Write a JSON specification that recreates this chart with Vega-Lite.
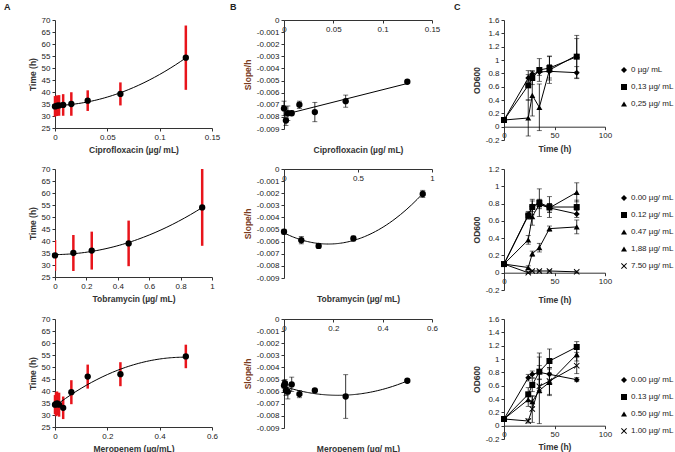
{
  "$schema": "https://vega.github.io/schema/vega-lite/v6.json",
  "padding": {"left": 4, "top": 3, "right": 0, "bottom": 0},
  "background": "white",
  "bounds": "flush",
  "columns": 3,
  "align": "each",
  "spacing": {"row": 29, "column": 72},
  "resolve": {"scale": {"shape": "independent"}, "legend": {"shape": "independent"}},
  "config": {
    "view": {"stroke": null},
    "font": "Liberation Sans",
    "axis": {"labelFont": "Liberation Sans", "labelFontSize": 8, "labelColor": "#222", "titleFont": "Liberation Sans", "titleFontSize": 8.5, "titleFontWeight": "bold", "titleColor": "#333", "domainColor": "#333", "tickColor": "#333", "tickSize": 3, "grid": false, "labelPadding": 2, "titlePadding": 4, "labelFlush": false, "labelOverlap": false},
    "legend": {"labelFont": "Liberation Sans", "labelFontSize": 8, "labelColor": "#222", "rowPadding": 5, "labelOffset": 3, "symbolSize": 36, "symbolFillColor": "black"},
    "title": {"font": "Liberation Sans", "fontSize": 9, "fontWeight": "bold", "color": "#222"}
  },
  "datasets": {
    "time": [
      {"drug": "Ciprofloxacin", "conc": 0, "time": 34.0, "err": 4.3},
      {"drug": "Ciprofloxacin", "conc": 0.00195, "time": 34.3, "err": 4.3},
      {"drug": "Ciprofloxacin", "conc": 0.0039, "time": 34.4, "err": 4.3},
      {"drug": "Ciprofloxacin", "conc": 0.0078, "time": 34.6, "err": 4.5},
      {"drug": "Ciprofloxacin", "conc": 0.0156, "time": 35.0, "err": 4.9},
      {"drug": "Ciprofloxacin", "conc": 0.03125, "time": 36.4, "err": 4.3},
      {"drug": "Ciprofloxacin", "conc": 0.0625, "time": 39.2, "err": 4.8},
      {"drug": "Ciprofloxacin", "conc": 0.125, "time": 54.3, "err": 13.4},
      {"drug": "Tobramycin", "conc": 0, "time": 34.0, "err": 6.4},
      {"drug": "Tobramycin", "conc": 0.117, "time": 35.0, "err": 7.5},
      {"drug": "Tobramycin", "conc": 0.234, "time": 36.0, "err": 7.9},
      {"drug": "Tobramycin", "conc": 0.469, "time": 39.0, "err": 9.5},
      {"drug": "Tobramycin", "conc": 0.9375, "time": 54.0, "err": 16.0},
      {"drug": "Meropenem", "conc": 0, "time": 34.3, "err": 4.0},
      {"drug": "Meropenem", "conc": 0.0039, "time": 34.5, "err": 5.0},
      {"drug": "Meropenem", "conc": 0.0078, "time": 34.8, "err": 5.0},
      {"drug": "Meropenem", "conc": 0.0156, "time": 34.3, "err": 5.0},
      {"drug": "Meropenem", "conc": 0.03125, "time": 33.0, "err": 4.7},
      {"drug": "Meropenem", "conc": 0.0625, "time": 39.5, "err": 5.0},
      {"drug": "Meropenem", "conc": 0.125, "time": 46.0, "err": 5.0},
      {"drug": "Meropenem", "conc": 0.25, "time": 47.0, "err": 5.0},
      {"drug": "Meropenem", "conc": 0.5, "time": 54.4, "err": 4.9}
    ],
    "slope": [
      {"drug": "Ciprofloxacin", "conc": 0, "slope": -0.0073, "err": 0.0006},
      {"drug": "Ciprofloxacin", "conc": 0.00195, "slope": -0.0083, "err": 0.0004},
      {"drug": "Ciprofloxacin", "conc": 0.0039, "slope": -0.0077, "err": 0.0006},
      {"drug": "Ciprofloxacin", "conc": 0.0078, "slope": -0.0077, "err": 0.0002},
      {"drug": "Ciprofloxacin", "conc": 0.0156, "slope": -0.0070, "err": 0.0003},
      {"drug": "Ciprofloxacin", "conc": 0.03125, "slope": -0.0076, "err": 0.0008},
      {"drug": "Ciprofloxacin", "conc": 0.0625, "slope": -0.0067, "err": 0.0005},
      {"drug": "Ciprofloxacin", "conc": 0.125, "slope": -0.0051, "err": 0.0001},
      {"drug": "Tobramycin", "conc": 0, "slope": -0.00518, "err": 0.0002},
      {"drug": "Tobramycin", "conc": 0.117, "slope": -0.00588, "err": 0.0003},
      {"drug": "Tobramycin", "conc": 0.234, "slope": -0.00635, "err": 0.0002},
      {"drug": "Tobramycin", "conc": 0.469, "slope": -0.00574, "err": 0.0002},
      {"drug": "Tobramycin", "conc": 0.9375, "slope": -0.00206, "err": 0.0003},
      {"drug": "Meropenem", "conc": 0, "slope": -0.0055, "err": 0.0002},
      {"drug": "Meropenem", "conc": 0.0039, "slope": -0.0053, "err": 0.0003},
      {"drug": "Meropenem", "conc": 0.0078, "slope": -0.0059, "err": 0.0004},
      {"drug": "Meropenem", "conc": 0.0156, "slope": -0.0060, "err": 0.0006},
      {"drug": "Meropenem", "conc": 0.03125, "slope": -0.0054, "err": 0.0006},
      {"drug": "Meropenem", "conc": 0.0625, "slope": -0.0062, "err": 0.0003},
      {"drug": "Meropenem", "conc": 0.125, "slope": -0.0059, "err": 0.0001},
      {"drug": "Meropenem", "conc": 0.25, "slope": -0.0064, "err": 0.0018},
      {"drug": "Meropenem", "conc": 0.5, "slope": -0.0051, "err": 0.0001}
    ],
    "od": [
      {"panel": "C1", "series": "0 µg/ mL", "t": 0, "od": 0.1, "err": 0},
      {"panel": "C1", "series": "0 µg/ mL", "t": 24, "od": 0.73, "err": 0.05},
      {"panel": "C1", "series": "0 µg/ mL", "t": 28, "od": 0.79, "err": 0.05},
      {"panel": "C1", "series": "0 µg/ mL", "t": 35, "od": 0.82, "err": 0.05},
      {"panel": "C1", "series": "0 µg/ mL", "t": 45, "od": 0.83, "err": 0.1},
      {"panel": "C1", "series": "0 µg/ mL", "t": 72, "od": 0.81, "err": 0.09},
      {"panel": "C1", "series": "0,13 µg/ mL", "t": 0, "od": 0.1, "err": 0},
      {"panel": "C1", "series": "0,13 µg/ mL", "t": 24, "od": 0.62, "err": 0.22},
      {"panel": "C1", "series": "0,13 µg/ mL", "t": 28, "od": 0.73, "err": 0.1},
      {"panel": "C1", "series": "0,13 µg/ mL", "t": 35, "od": 0.85, "err": 0.17},
      {"panel": "C1", "series": "0,13 µg/ mL", "t": 45, "od": 0.88, "err": 0.18},
      {"panel": "C1", "series": "0,13 µg/ mL", "t": 72, "od": 1.05, "err": 0.32},
      {"panel": "C1", "series": "0,25 µg/ mL", "t": 0, "od": 0.1, "err": 0},
      {"panel": "C1", "series": "0,25 µg/ mL", "t": 24, "od": 0.13, "err": 0.27},
      {"panel": "C1", "series": "0,25 µg/ mL", "t": 28, "od": 0.47, "err": 0.31},
      {"panel": "C1", "series": "0,25 µg/ mL", "t": 35, "od": 0.29, "err": 0.35},
      {"panel": "C1", "series": "0,25 µg/ mL", "t": 45, "od": 0.85, "err": 0.2},
      {"panel": "C1", "series": "0,25 µg/ mL", "t": 72, "od": 1.07, "err": 0.25},
      {"panel": "C2", "series": "0.00 µg/ mL", "t": 0, "od": 0.1, "err": 0},
      {"panel": "C2", "series": "0.00 µg/ mL", "t": 24, "od": 0.67, "err": 0.04},
      {"panel": "C2", "series": "0.00 µg/ mL", "t": 28, "od": 0.77, "err": 0.06},
      {"panel": "C2", "series": "0.00 µg/ mL", "t": 35, "od": 0.8, "err": 0.05},
      {"panel": "C2", "series": "0.00 µg/ mL", "t": 45, "od": 0.75, "err": 0.05},
      {"panel": "C2", "series": "0.00 µg/ mL", "t": 72, "od": 0.68, "err": 0.04},
      {"panel": "C2", "series": "0.12 µg/ mL", "t": 0, "od": 0.1, "err": 0},
      {"panel": "C2", "series": "0.12 µg/ mL", "t": 24, "od": 0.66, "err": 0.04},
      {"panel": "C2", "series": "0.12 µg/ mL", "t": 28, "od": 0.76, "err": 0.09},
      {"panel": "C2", "series": "0.12 µg/ mL", "t": 35, "od": 0.81, "err": 0.16},
      {"panel": "C2", "series": "0.12 µg/ mL", "t": 45, "od": 0.76, "err": 0.12},
      {"panel": "C2", "series": "0.12 µg/ mL", "t": 72, "od": 0.76, "err": 0.08},
      {"panel": "C2", "series": "0.47 µg/ mL", "t": 0, "od": 0.1, "err": 0},
      {"panel": "C2", "series": "0.47 µg/ mL", "t": 24, "od": 0.38, "err": 0.05},
      {"panel": "C2", "series": "0.47 µg/ mL", "t": 28, "od": 0.65, "err": 0.1},
      {"panel": "C2", "series": "0.47 µg/ mL", "t": 35, "od": 0.79, "err": 0.05},
      {"panel": "C2", "series": "0.47 µg/ mL", "t": 45, "od": 0.75, "err": 0.05},
      {"panel": "C2", "series": "0.47 µg/ mL", "t": 72, "od": 0.93, "err": 0.11},
      {"panel": "C2", "series": "1,88 µg/ mL", "t": 0, "od": 0.1, "err": 0},
      {"panel": "C2", "series": "1,88 µg/ mL", "t": 24, "od": 0.06, "err": 0.02},
      {"panel": "C2", "series": "1,88 µg/ mL", "t": 28, "od": 0.22, "err": 0.03},
      {"panel": "C2", "series": "1,88 µg/ mL", "t": 35, "od": 0.29, "err": 0.05},
      {"panel": "C2", "series": "1,88 µg/ mL", "t": 45, "od": 0.51, "err": 0.03},
      {"panel": "C2", "series": "1,88 µg/ mL", "t": 72, "od": 0.53, "err": 0.08},
      {"panel": "C2", "series": "7.50 µg/ mL", "t": 0, "od": 0.1, "err": 0},
      {"panel": "C2", "series": "7.50 µg/ mL", "t": 24, "od": 0.0, "err": 0.01},
      {"panel": "C2", "series": "7.50 µg/ mL", "t": 28, "od": 0.02, "err": 0.01},
      {"panel": "C2", "series": "7.50 µg/ mL", "t": 35, "od": 0.02, "err": 0.01},
      {"panel": "C2", "series": "7.50 µg/ mL", "t": 45, "od": 0.02, "err": 0.01},
      {"panel": "C2", "series": "7.50 µg/ mL", "t": 72, "od": 0.01, "err": 0.01},
      {"panel": "C3", "series": "0.00 µg/ mL", "t": 0, "od": 0.1, "err": 0},
      {"panel": "C3", "series": "0.00 µg/ mL", "t": 24, "od": 0.72, "err": 0.05},
      {"panel": "C3", "series": "0.00 µg/ mL", "t": 28, "od": 0.77, "err": 0.05},
      {"panel": "C3", "series": "0.00 µg/ mL", "t": 35, "od": 0.8, "err": 0.1},
      {"panel": "C3", "series": "0.00 µg/ mL", "t": 45, "od": 0.77, "err": 0.1},
      {"panel": "C3", "series": "0.00 µg/ mL", "t": 72, "od": 0.69, "err": 0.03},
      {"panel": "C3", "series": "0.13 µg/ mL", "t": 0, "od": 0.1, "err": 0},
      {"panel": "C3", "series": "0.13 µg/ mL", "t": 24, "od": 0.47, "err": 0.1},
      {"panel": "C3", "series": "0.13 µg/ mL", "t": 28, "od": 0.61, "err": 0.1},
      {"panel": "C3", "series": "0.13 µg/ mL", "t": 35, "od": 0.81, "err": 0.28},
      {"panel": "C3", "series": "0.13 µg/ mL", "t": 45, "od": 0.97, "err": 0.18},
      {"panel": "C3", "series": "0.13 µg/ mL", "t": 72, "od": 1.18, "err": 0.08},
      {"panel": "C3", "series": "0.50 µg/ mL", "t": 0, "od": 0.1, "err": 0},
      {"panel": "C3", "series": "0.50 µg/ mL", "t": 24, "od": 0.39, "err": 0.1},
      {"panel": "C3", "series": "0.50 µg/ mL", "t": 28, "od": 0.36, "err": 0.08},
      {"panel": "C3", "series": "0.50 µg/ mL", "t": 35, "od": 0.53, "err": 0.5},
      {"panel": "C3", "series": "0.50 µg/ mL", "t": 45, "od": 0.65, "err": 0.2},
      {"panel": "C3", "series": "0.50 µg/ mL", "t": 72, "od": 1.07, "err": 0.1},
      {"panel": "C3", "series": "1.00 µg/ mL", "t": 0, "od": 0.1, "err": 0},
      {"panel": "C3", "series": "1.00 µg/ mL", "t": 24, "od": 0.07, "err": 0.03},
      {"panel": "C3", "series": "1.00 µg/ mL", "t": 28, "od": 0.25, "err": 0.2},
      {"panel": "C3", "series": "1.00 µg/ mL", "t": 35, "od": 0.59, "err": 0.1},
      {"panel": "C3", "series": "1.00 µg/ mL", "t": 45, "od": 0.67, "err": 0.2},
      {"panel": "C3", "series": "1.00 µg/ mL", "t": 72, "od": 0.9, "err": 0.12}
    ]
  },
  "concat": [
    {
      "width": 157, "height": 108,
      "title": {"text": "A", "anchor": "start", "frame": "group", "dx": -51, "offset": 4},
      "data": {"name": "time"},
      "transform": [{"filter": "datum.drug === 'Ciprofloxacin'"}],
      "encoding": {
        "x": {"field": "conc", "type": "quantitative", "scale": {"domain": [0, 0.15], "nice": false}, "axis": {"values": [0, 0.05, 0.1, 0.15], "labelExpr": "'' + datum.value", "title": "Ciprofloxacin (µg/ mL)"}},
        "y": {"field": "time", "type": "quantitative", "scale": {"domain": [25, 70], "nice": false, "zero": false}, "axis": {"values": [25, 30, 35, 40, 45, 50, 55, 60, 65, 70], "title": "Time (h)"}}
      },
      "layer": [
        {"mark": {"type": "errorbar", "color": "#e8141b", "thickness": 2.5}, "encoding": {"yError": {"field": "err"}}},
        {"mark": {"type": "circle", "color": "black", "size": 40, "opacity": 1}},
        {"transform": [{"regression": "time", "on": "conc", "method": "poly", "order": 2}], "mark": {"type": "line", "color": "black", "strokeWidth": 1}}
      ]
    },
    {
      "width": 148, "height": 109,
      "title": {"text": "B", "anchor": "start", "frame": "group", "dx": -54, "offset": 4},
      "data": {"name": "slope"},
      "transform": [{"filter": "datum.drug === 'Ciprofloxacin'"}],
      "encoding": {
        "x": {"field": "conc", "type": "quantitative", "scale": {"domain": [0, 0.15], "nice": false}, "axis": {"values": [0, 0.05, 0.1, 0.15], "labelExpr": "'' + datum.value", "orient": "bottom", "offset": -109, "titleY": 125, "title": "Ciprofloxacin (µg/ mL)"}},
        "y": {"field": "slope", "type": "quantitative", "scale": {"domain": [-0.009, 0], "nice": false}, "axis": {"values": [-0.009, -0.008, -0.007, -0.006, -0.005, -0.004, -0.003, -0.002, -0.001, 0], "labelExpr": "replace(format(datum.value, '~g'), '−', '-')", "title": "Slope/h", "titleColor": "#7a3a1c"}}
      },
      "layer": [
        {"mark": {"type": "errorbar", "color": "black", "thickness": 0.8, "ticks": true, "size": 5}, "encoding": {"yError": {"field": "err"}}},
        {"mark": {"type": "circle", "color": "black", "size": 40, "opacity": 1}},
        {"transform": [{"regression": "slope", "on": "conc", "method": "linear"}], "mark": {"type": "line", "color": "black", "strokeWidth": 1}}
      ]
    },
    {
      "width": 101, "height": 120,
      "title": {"text": "C", "anchor": "start", "frame": "group", "dx": -50, "offset": 4},
      "data": {"name": "od"},
      "transform": [{"filter": "datum.panel === 'C1'"}],
      "encoding": {
        "x": {"field": "t", "type": "quantitative", "scale": {"domain": [0, 100], "nice": false}, "axis": {"values": [0, 50, 100], "orient": "bottom", "offset": -13.3, "titleY": 18, "title": "Time (h)"}},
        "y": {"field": "od", "type": "quantitative", "scale": {"domain": [-0.2, 1.6], "nice": false}, "axis": {"values": [-0.2, 0, 0.2, 0.4, 0.6, 0.8, 1, 1.2, 1.4, 1.6], "labelExpr": "replace(format(datum.value, '~g'), '−', '-')", "title": "OD600"}}
      },
      "layer": [
        {"mark": {"type": "line", "color": "black", "strokeWidth": 1}, "encoding": {"detail": {"field": "series"}}},
        {"mark": {"type": "errorbar", "color": "black", "thickness": 0.8, "ticks": true, "size": 5}, "encoding": {"yError": {"field": "err"}, "detail": {"field": "series"}}},
        {"mark": {"type": "point", "filled": true, "color": "black", "size": 36, "opacity": 1},
         "encoding": {"shape": {"field": "series", "type": "nominal", "scale": {"domain": ["0 µg/ mL", "0,13 µg/ mL", "0,25 µg/ mL"], "range": ["diamond", "square", "triangle-up"]}, "legend": {"orient": "none", "legendX": 116, "legendY": 46, "title": null}}}}
      ]
    },
    {
      "width": 157, "height": 108,
      "data": {"name": "time"},
      "transform": [{"filter": "datum.drug === 'Tobramycin'"}],
      "encoding": {
        "x": {"field": "conc", "type": "quantitative", "scale": {"domain": [0, 1], "nice": false}, "axis": {"values": [0, 0.2, 0.4, 0.6, 0.8, 1], "format": "~g", "title": "Tobramycin (µg/ mL)"}},
        "y": {"field": "time", "type": "quantitative", "scale": {"domain": [25, 70], "nice": false, "zero": false}, "axis": {"values": [25, 30, 35, 40, 45, 50, 55, 60, 65, 70], "title": "Time (h)"}}
      },
      "layer": [
        {"mark": {"type": "errorbar", "color": "#e8141b", "thickness": 2.5, "clip": true}, "encoding": {"yError": {"field": "err"}}},
        {"mark": {"type": "circle", "color": "black", "size": 40, "opacity": 1}},
        {"transform": [{"regression": "time", "on": "conc", "method": "poly", "order": 2}], "mark": {"type": "line", "color": "black", "strokeWidth": 1}}
      ]
    },
    {
      "width": 148, "height": 109,
      "data": {"name": "slope"},
      "transform": [{"filter": "datum.drug === 'Tobramycin'"}],
      "encoding": {
        "x": {"field": "conc", "type": "quantitative", "scale": {"domain": [0, 1], "nice": false}, "axis": {"values": [0, 0.5, 1], "format": "~g", "orient": "bottom", "offset": -109, "titleY": 125, "title": "Tobramycin (µg/ mL)"}},
        "y": {"field": "slope", "type": "quantitative", "scale": {"domain": [-0.009, 0], "nice": false}, "axis": {"values": [-0.009, -0.008, -0.007, -0.006, -0.005, -0.004, -0.003, -0.002, -0.001, 0], "labelExpr": "replace(format(datum.value, '~g'), '−', '-')", "title": "Slope/h", "titleColor": "#7a3a1c"}}
      },
      "layer": [
        {"mark": {"type": "errorbar", "color": "black", "thickness": 0.8, "ticks": true, "size": 5}, "encoding": {"yError": {"field": "err"}}},
        {"mark": {"type": "circle", "color": "black", "size": 40, "opacity": 1}},
        {"transform": [{"regression": "slope", "on": "conc", "method": "poly", "order": 2}], "mark": {"type": "line", "color": "black", "strokeWidth": 1}}
      ]
    },
    {
      "width": 101, "height": 121,
      "data": {"name": "od"},
      "transform": [{"filter": "datum.panel === 'C2'"}],
      "encoding": {
        "x": {"field": "t", "type": "quantitative", "scale": {"domain": [0, 100], "nice": false}, "axis": {"values": [0, 50, 100], "orient": "bottom", "offset": -17.3, "titleY": 23, "title": "Time (h)"}},
        "y": {"field": "od", "type": "quantitative", "scale": {"domain": [-0.2, 1.2], "nice": false}, "axis": {"values": [-0.2, 0, 0.2, 0.4, 0.6, 0.8, 1, 1.2], "labelExpr": "replace(format(datum.value, '~g'), '−', '-')", "title": "OD600"}}
      },
      "layer": [
        {"mark": {"type": "line", "color": "black", "strokeWidth": 1}, "encoding": {"detail": {"field": "series"}}},
        {"mark": {"type": "errorbar", "color": "black", "thickness": 0.8, "ticks": true, "size": 5}, "encoding": {"yError": {"field": "err"}, "detail": {"field": "series"}}},
        {"mark": {"type": "point", "filled": true, "color": "black", "size": 36, "opacity": 1},
         "encoding": {"shape": {"field": "series", "type": "nominal", "scale": {"domain": ["0.00 µg/ mL", "0.12 µg/ mL", "0.47 µg/ mL", "1,88 µg/ mL", "7.50 µg/ mL"], "range": ["diamond", "square", "triangle-up", "triangle-up", "M-1,-0.78L-0.78,-1L0,-0.22L0.78,-1L1,-0.78L0.22,0L1,0.78L0.78,1L0,0.22L-0.78,1L-1,0.78L-0.22,0Z"]}, "legend": {"orient": "none", "legendX": 116, "legendY": 25, "title": null}}}}
      ]
    },
    {
      "width": 157, "height": 108,
      "data": {"name": "time"},
      "transform": [{"filter": "datum.drug === 'Meropenem'"}],
      "encoding": {
        "x": {"field": "conc", "type": "quantitative", "scale": {"domain": [0, 0.6], "nice": false}, "axis": {"values": [0, 0.2, 0.4, 0.6], "format": "~g", "title": "Meropenem (µg/mL)"}},
        "y": {"field": "time", "type": "quantitative", "scale": {"domain": [25, 70], "nice": false, "zero": false}, "axis": {"values": [25, 30, 35, 40, 45, 50, 55, 60, 65, 70], "title": "Time (h)"}}
      },
      "layer": [
        {"mark": {"type": "errorbar", "color": "#e8141b", "thickness": 2.5}, "encoding": {"yError": {"field": "err"}}},
        {"mark": {"type": "circle", "color": "black", "size": 40, "opacity": 1}},
        {"transform": [{"regression": "time", "on": "conc", "method": "poly", "order": 2}], "mark": {"type": "line", "color": "black", "strokeWidth": 1}}
      ]
    },
    {
      "width": 148, "height": 109,
      "data": {"name": "slope"},
      "transform": [{"filter": "datum.drug === 'Meropenem'"}],
      "encoding": {
        "x": {"field": "conc", "type": "quantitative", "scale": {"domain": [0, 0.6], "nice": false}, "axis": {"values": [0, 0.2, 0.4, 0.6], "format": "~g", "orient": "bottom", "offset": -109, "titleY": 125, "title": "Meropenem (µg/ mL)"}},
        "y": {"field": "slope", "type": "quantitative", "scale": {"domain": [-0.009, 0], "nice": false}, "axis": {"values": [-0.009, -0.008, -0.007, -0.006, -0.005, -0.004, -0.003, -0.002, -0.001, 0], "labelExpr": "replace(format(datum.value, '~g'), '−', '-')", "title": "Slope/h", "titleColor": "#7a3a1c"}}
      },
      "layer": [
        {"mark": {"type": "errorbar", "color": "black", "thickness": 0.8, "ticks": true, "size": 5}, "encoding": {"yError": {"field": "err"}}},
        {"mark": {"type": "circle", "color": "black", "size": 40, "opacity": 1}},
        {"transform": [{"regression": "slope", "on": "conc", "method": "poly", "order": 2}], "mark": {"type": "line", "color": "black", "strokeWidth": 1}}
      ]
    },
    {
      "width": 101, "height": 120,
      "data": {"name": "od"},
      "transform": [{"filter": "datum.panel === 'C3'"}],
      "encoding": {
        "x": {"field": "t", "type": "quantitative", "scale": {"domain": [0, 100], "nice": false}, "axis": {"values": [0, 50, 100], "orient": "bottom", "offset": -13.3, "titleY": 17, "title": "Time (h)"}},
        "y": {"field": "od", "type": "quantitative", "scale": {"domain": [-0.2, 1.6], "nice": false}, "axis": {"values": [-0.2, 0, 0.2, 0.4, 0.6, 0.8, 1, 1.2, 1.4, 1.6], "labelExpr": "replace(format(datum.value, '~g'), '−', '-')", "title": "OD600"}}
      },
      "layer": [
        {"mark": {"type": "line", "color": "black", "strokeWidth": 1}, "encoding": {"detail": {"field": "series"}}},
        {"mark": {"type": "errorbar", "color": "black", "thickness": 0.8, "ticks": true, "size": 5}, "encoding": {"yError": {"field": "err"}, "detail": {"field": "series"}}},
        {"mark": {"type": "point", "filled": true, "color": "black", "size": 36, "opacity": 1},
         "encoding": {"shape": {"field": "series", "type": "nominal", "scale": {"domain": ["0.00 µg/ mL", "0.13 µg/ mL", "0.50 µg/ mL", "1.00 µg/ mL"], "range": ["diamond", "square", "triangle-up", "M-1,-0.78L-0.78,-1L0,-0.22L0.78,-1L1,-0.78L0.22,0L1,0.78L0.78,1L0,0.22L-0.78,1L-1,0.78L-0.22,0Z"]}, "legend": {"orient": "none", "legendX": 116, "legendY": 57, "title": null}}}}
      ]
    }
  ]
}
